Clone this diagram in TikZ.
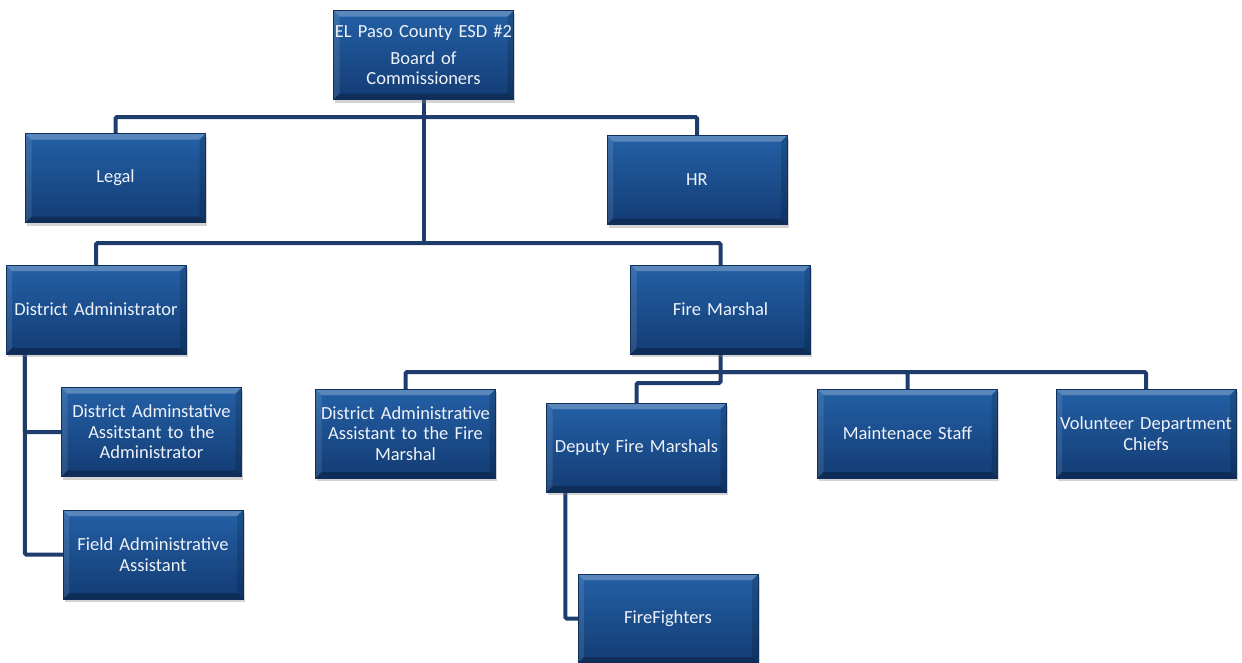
\documentclass[tikz,border=0pt]{standalone}
\usepackage{fontspec}
\setmainfont{Carlito}[WordSpace=0.8]
\usetikzlibrary{shadows,backgrounds}
\definecolor{boxtop}{HTML}{2460A6}
\definecolor{boxbot}{HTML}{133C74}
\definecolor{linec}{HTML}{1F3D6C}
\definecolor{txtc}{HTML}{EEF2F8}
\tikzset{
  orgbox/.style={minimum width=180pt, minimum height=89pt, inner sep=0pt,
    top color=boxtop, bottom color=boxbot, draw=boxbot!80!black, line width=0.4pt,
    text=txtc, font=\fontsize{18.5}{20.5}\selectfont, align=center, text width=180pt,
    drop shadow={opacity=0.35, shadow xshift=1.5pt, shadow yshift=-3pt},
    path picture={
      \fill[white,opacity=0.25] (path picture bounding box.north west) -- (path picture bounding box.north east)
        -- ([xshift=-6pt,yshift=-6pt]path picture bounding box.north east) -- ([xshift=6pt,yshift=-6pt]path picture bounding box.north west) -- cycle;
      \fill[white,opacity=0.10] (path picture bounding box.north west) -- ([xshift=6pt,yshift=-6pt]path picture bounding box.north west)
        -- ([xshift=6pt,yshift=6pt]path picture bounding box.south west) -- (path picture bounding box.south west) -- cycle;
      \fill[black,opacity=0.25] (path picture bounding box.south west) -- (path picture bounding box.south east)
        -- ([xshift=-6pt,yshift=6pt]path picture bounding box.south east) -- ([xshift=6pt,yshift=6pt]path picture bounding box.south west) -- cycle;
      \fill[black,opacity=0.15] (path picture bounding box.north east) -- ([xshift=-6pt,yshift=-6pt]path picture bounding box.north east)
        -- ([xshift=-6pt,yshift=6pt]path picture bounding box.south east) -- (path picture bounding box.south east) -- cycle;
    }},
  conn/.style={draw=linec, line width=4pt, rounded corners=1.5pt}
}
\begin{document}
\begin{tikzpicture}[x=1pt,y=-1pt]
\useasboundingbox (0,0) rectangle (1242,662);
\begin{scope}
\clip (0,0) rectangle (1242,662);
\node[orgbox] (board) at (423.5,55) {\makebox[\linewidth]{EL Paso County ESD \#2}\\[6pt]Board of\\Commissioners};
\node[orgbox] (legal) at (115.5,178) {Legal};
\node[orgbox] (hr) at (697,180) {HR};
\node[orgbox] (da) at (96,309.5) {\makebox[\linewidth]{District Administrator}};
\node[orgbox] (fm) at (720.5,309.5) {Fire Marshal};
\node[orgbox] (daa) at (151.5,432) {District Adminstative\\Assitstant to the\\Administrator};
\node[orgbox] (faa) at (153,554.5) {Field Administrative\\Assistant};
\node[orgbox] (dafm) at (405.5,433.5) {\makebox[\linewidth]{District Administrative}\\Assistant to the Fire\\Marshal};
\node[orgbox] (dfm) at (636.5,447.5) {Deputy Fire Marshals};
\node[orgbox] (ms) at (907.5,433.5) {Maintenace Staff};
\node[orgbox] (vdc) at (1146,433.5) {\makebox[\linewidth]{Volunteer Department}\\Chiefs};
\node[orgbox] (ff) at (668,618.5) {FireFighters};

\coordinate (t1) at (423.5,117);
\coordinate (t2) at (423.5,243);
\coordinate (fmb) at (720.5,372);
\coordinate (fmd) at (720.5,383);
\begin{scope}[on background layer]
\draw[conn] (board.south) -- (t2);
\draw[conn] (legal.north) |- (t1) -| (hr.north);
\draw[conn] (da.north) |- (t2) -| (fm.north);
\draw[conn] ([xshift=19pt]da.south west) |- (daa.west);
\draw[conn] ([xshift=19pt]da.south west) |- (faa.west);
\draw[conn] (fm.south) -- (fmd) -| (dfm.north);
\draw[conn] (dafm.north) |- (fmb) -| (vdc.north);
\draw[conn] (ms.north) |- (fmb);
\draw[conn] ([xshift=19pt]dfm.south west) |- (ff.west);
\end{scope}
\end{scope}
\end{tikzpicture}
\end{document}
